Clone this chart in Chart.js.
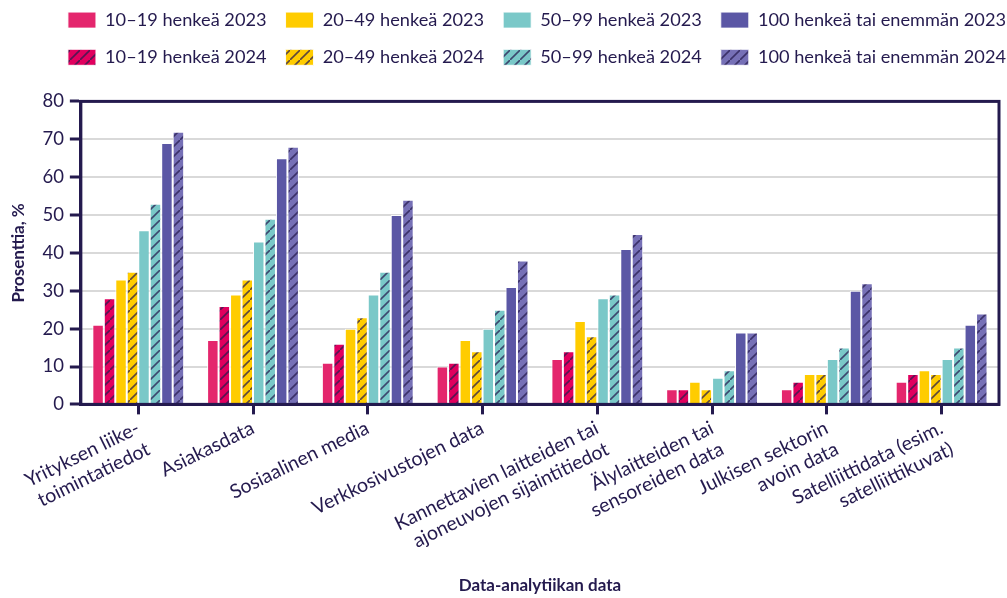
<!DOCTYPE html>
<html>
<head>
<meta charset="utf-8">
<script src="https://cdn.jsdelivr.net/npm/chart.js@4"></script>
<style>
  html, body { margin: 0; padding: 0; background: #fff; }
  #wrap { width: 1007px; height: 598px; }
</style>
</head>
<body>
<div id="wrap"><canvas id="myChart"></canvas></div>
<script>
/******************** Data ********************/

var categories = [
  ["Yrityksen liike-", "toimintatiedot"],
  "Asiakasdata",
  "Sosiaalinen media",
  "Verkkosivustojen data",
  ["Kannettavien laitteiden tai", "ajoneuvojen sijaintitiedot"],
  ["Älylaitteiden tai", "sensoreiden data"],
  ["Julkisen sektorin", "avoin data"],
  ["Satelliittidata (esim.", "satelliittikuvat)"]
];

var small2023  = [21, 17, 11, 10, 12, 4, 4, 6];
var small2024  = [28, 26, 16, 11, 14, 4, 6, 8];
var mid2023    = [33, 29, 20, 17, 22, 6, 8, 9];
var mid2024    = [35, 33, 23, 14, 18, 4, 8, 8];
var large2023  = [46, 43, 29, 20, 28, 7, 12, 12];
var large2024  = [53, 49, 35, 25, 29, 9, 15, 15];
var huge2023   = [69, 65, 50, 31, 41, 19, 30, 21];
var huge2024   = [72, 68, 54, 38, 45, 19, 32, 24];

var yTicks = [0, 10, 20, 30, 40, 50, 60, 70, 80];

var ink = "#241a4e";
var fontName = "Lato";

// striped fill for the 2024 bars
function stripes(base) {
  var c = document.createElement("canvas");
  c.width = 10;
  c.height = 10;
  var g = c.getContext("2d");
  g.fillStyle = base;
  g.fillRect(0, 0, 10, 10);
  g.strokeStyle = "rgba(40,28,80,0.75)";
  g.lineWidth = 1.6;
  g.beginPath();
  g.moveTo(-1, 11);
  g.lineTo(11, -1);
  g.stroke();
  return g.createPattern(c, "repeat");
}

function set(label, values, color) {
  return {
    label: label,
    data: values,
    backgroundColor: color,
    borderColor: "rgba(255,255,255,0.9)",
    borderWidth: 1,
    borderSkipped: "start"
  };
}

var datasets = [
  set("10–19 henkeä 2023", small2023, "#e4266d"),
  set("10–19 henkeä 2024", small2024, stripes("#e0005e")),
  set("20–49 henkeä 2023", mid2023, "#ffcc00"),
  set("20–49 henkeä 2024", mid2024, stripes("#ffcc00")),
  set("50–99 henkeä 2023", large2023, "#7ac8c8"),
  set("50–99 henkeä 2024", large2024, stripes("#7ac8c8")),
  set("100 henkeä tai enemmän 2023", huge2023, "#5b57a5"),
  set("100 henkeä tai enemmän 2024", huge2024, stripes("#7670b6"))
];

// frame round the plot area
var frame = {
  id: "frame",
  afterDatasetsDraw: function(chart) {
    var a = chart.chartArea;
    var ctx = chart.ctx;
    ctx.save();
    ctx.strokeStyle = ink;
    ctx.lineWidth = 3;
    ctx.strokeRect(a.left, a.top, a.right - a.left, a.bottom - a.top);
    ctx.restore();
  }
};

// more room under the legend, and legend rows nudged into place
var legendRoom = {
  id: "legendRoom",
  beforeInit: function(chart) {
    var fit = chart.legend.fit;
    chart.legend.fit = function() {
      fit.bind(chart.legend)();
      this.height += 17;
    };
  },
  afterLayout: function(chart) {
    chart.legend.top -= 8;
    chart.legend.left += 26;
    chart.legend.right += 26;
  }
};

Chart.defaults.font.family = fontName;
Chart.defaults.color = ink;

new Chart("myChart", {
  type: "bar",
  data: {
    labels: categories,
    datasets: datasets
  },
  options: {
    responsive: true,
    maintainAspectRatio: false,
    animation: false,
    layout: { padding: { left: 8, right: 8, top: 0, bottom: 2 } },
    datasets: {
      bar: { categoryPercentage: 0.8, barPercentage: 1.0 }
    },
    plugins: {
      legend: {
        position: "top",
        align: "end",
        labels: {
          boxWidth: 28,
          boxHeight: 16,
          padding: 19,
          font: { size: 18.2 },
          color: ink,
          sort: function(a, b) {
            var ka = (a.datasetIndex % 2) * 10 + Math.floor(a.datasetIndex / 2);
            var kb = (b.datasetIndex % 2) * 10 + Math.floor(b.datasetIndex / 2);
            return ka - kb;
          }
        }
      },
      tooltip: { enabled: false }
    },
    scales: {
      x: {
        grid: {
          offset: false,
          drawOnChartArea: false,
          tickLength: 10,
          tickWidth: 3,
          tickColor: ink
        },
        border: { color: ink, width: 3 },
        ticks: {
          minRotation: 26,
          maxRotation: 26,
          font: { size: 19.5 },
          color: ink,
          padding: 2
        },
        title: {
          display: true,
          text: "Data-analytiikan data",
          font: { size: 17, weight: "bold" },
          color: ink,
          padding: { top: 17, bottom: 0 }
        }
      },
      y: {
        min: 0,
        max: 80,
        afterBuildTicks: function(axis) {
          axis.ticks = yTicks.map(function(v) { return { value: v }; });
        },
        grid: {
          color: "#d9d9d9",
          lineWidth: 2,
          tickLength: 11,
          tickWidth: 3,
          tickColor: ink
        },
        border: { color: ink, width: 3 },
        ticks: {
          font: { size: 18.5 },
          color: ink,
          padding: 6
        },
        title: {
          display: true,
          text: "Prosenttia, %",
          font: { size: 17, weight: "bold" },
          color: ink,
          padding: { top: 0, bottom: 8 }
        }
      }
    }
  },
  plugins: [frame, legendRoom]
});
</script>
</body>
</html>
